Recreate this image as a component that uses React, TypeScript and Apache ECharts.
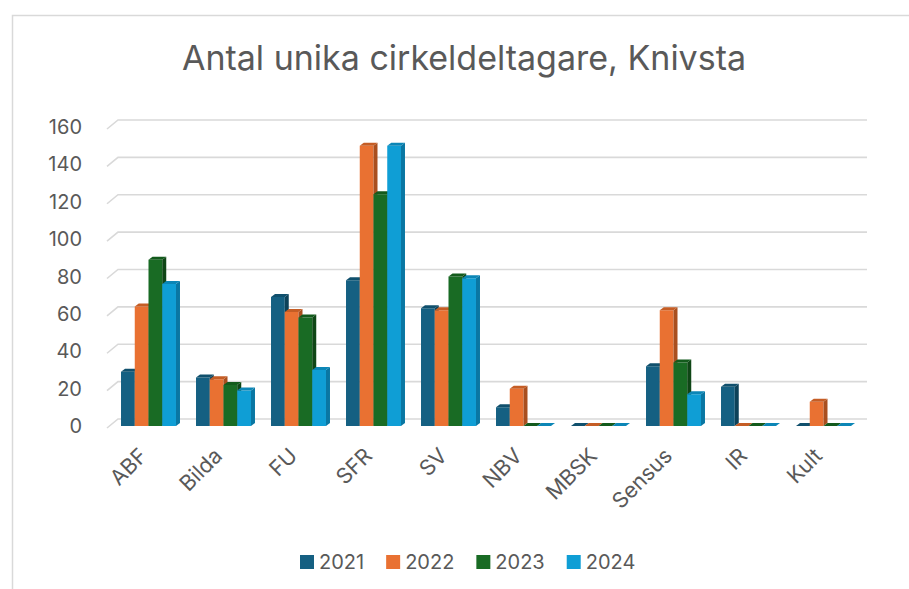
import React, { useEffect, useRef } from "react";
import * as echarts from "echarts";

const categories = ["ABF", "Bilda", "FU", "SFR", "SV", "NBV", "MBSK", "Sensus", "IR", "Kult"];
const years = ["2021", "2022", "2023", "2024"];
const v2021 = [29, 26, 69, 78, 63, 10, 0, 32, 21, 0];
const v2022 = [64, 25, 61, 150, 62, 20, 0, 62, 0, 13];
const v2023 = [89, 22, 58, 124, 80, 0, 0, 34, 0, 0];
const v2024 = [76, 19, 30, 150, 79, 0, 0, 17, 0, 0];
const yTicks = [0, 20, 40, 60, 80, 100, 120, 140, 160];

const seriesValues = [v2021, v2022, v2023, v2024];
const frontColors = ["#156082", "#E97132", "#196B24", "#0F9ED5"];
const sideColors = ["#0d4259", "#a94f1f", "#0f4616", "#0a77a3"];
const topColors = ["#10506d", "#c55d25", "#135a1c", "#0c86b6"];

const FONT = "Inter, 'Liberation Sans', Arial, sans-serif";
const TEXT = "#595959";

export default function App() {
  const ref = useRef<HTMLDivElement>(null);

  useEffect(() => {
    if (!ref.current) return;
    const chart = echarts.init(ref.current, null, { renderer: "svg" });
    const nSeries = years.length;
    const dx = 4;
    const dy = -3;

    const barSeries = years.map((yr, si) => ({
      type: "custom",
      name: yr,
      itemStyle: { color: frontColors[si] },
      z: 3,
      data: seriesValues[si].map((v, i) => [i, v]),
      renderItem: (params: any, api: any) => {
        const idx = api.value(0);
        const val = api.value(1);
        const base = api.coord([idx, 0]);
        const top = api.coord([idx, val]);
        const band = api.size([1, 0])[0];
        const groupW = band * 0.733;
        const w = groupW / nSeries;
        const x = base[0] - groupW / 2 + si * w;
        const children: any[] = [];
        if (val > 0) {
          children.push({
            type: "rect",
            shape: { x, y: top[1], width: w, height: base[1] - top[1] },
            style: { fill: frontColors[si] },
          });
          children.push({
            type: "polygon",
            shape: {
              points: [
                [x + w, top[1]],
                [x + w + dx, top[1] + dy],
                [x + w + dx, base[1] + dy],
                [x + w, base[1]],
              ],
            },
            style: { fill: sideColors[si] },
          });
        }
        children.push({
          type: "polygon",
          shape: {
            points: [
              [x, top[1]],
              [x + dx, top[1] + dy],
              [x + w + dx, top[1] + dy],
              [x + w, top[1]],
            ],
          },
          style: { fill: topColors[si] },
        });
        return { type: "group", children };
      },
    }));

    const gridSeries = {
      type: "custom",
      name: "grid",
      z: 1,
      silent: true,
      data: yTicks.map((t) => [0, t]),
      renderItem: (params: any, api: any) => {
        const y = api.coord([0, api.value(1)])[1];
        const cs = params.coordSys;
        const x0 = cs.x;
        return {
          type: "polyline",
          shape: {
            points: [
              [x0 - 4, y + 2],
              [x0 + 7, y - 7],
              [x0 + cs.width + 6, y - 7],
            ],
          },
          style: { stroke: "#d9d9d9", lineWidth: 1.6, fill: null },
        };
      },
    };

    chart.setOption({
      animation: false,
      backgroundColor: "#ffffff",
      title: {
        text: "Antal unika cirkeldeltagare, Knivsta",
        left: 459,
        textAlign: "center",
        top: 35,
        textStyle: { fontSize: 34, fontWeight: "normal", color: TEXT, fontFamily: FONT },
      },
      legend: {
        data: years.map((y, i) => ({ name: y, icon: "rect", itemStyle: { color: frontColors[i] } })),
        left: 295,
        top: 547,
        itemWidth: 14,
        itemHeight: 14,
        itemGap: 22,
        textStyle: { fontSize: 20, color: TEXT, fontFamily: FONT },
      },
      graphic: [
        {
          type: "rect",
          left: 10,
          top: 13,
          shape: { x: 0, y: 0, width: 1000, height: 700 },
          style: { fill: null, stroke: "#d9d9d9", lineWidth: 1.5 },
          silent: true,
        },
      ],
      grid: { left: 111, right: 48, top: 127, bottom: 163 },
      xAxis: {
        type: "category",
        data: categories,
        axisLine: { show: false },
        axisTick: { show: false },
        axisLabel: {
          rotate: 45,
          margin: 20,
          padding: [0, 8, 0, 0],
          fontSize: 21.5,
          color: TEXT,
          fontFamily: FONT,
          interval: 0,
        },
      },
      yAxis: {
        type: "value",
        min: 0,
        max: 160,
        interval: 20,
        splitLine: { show: false },
        axisLine: { show: false },
        axisTick: { show: false },
        axisLabel: { fontSize: 20, color: TEXT, fontFamily: FONT, margin: 29 },
      },
      series: [gridSeries, ...barSeries],
    });
    return () => chart.dispose();
  }, []);

  return (
    <div
      ref={ref}
      style={{ position: "absolute", left: 0, top: 0, width: 909, height: 589 }}
    />
  );
}
